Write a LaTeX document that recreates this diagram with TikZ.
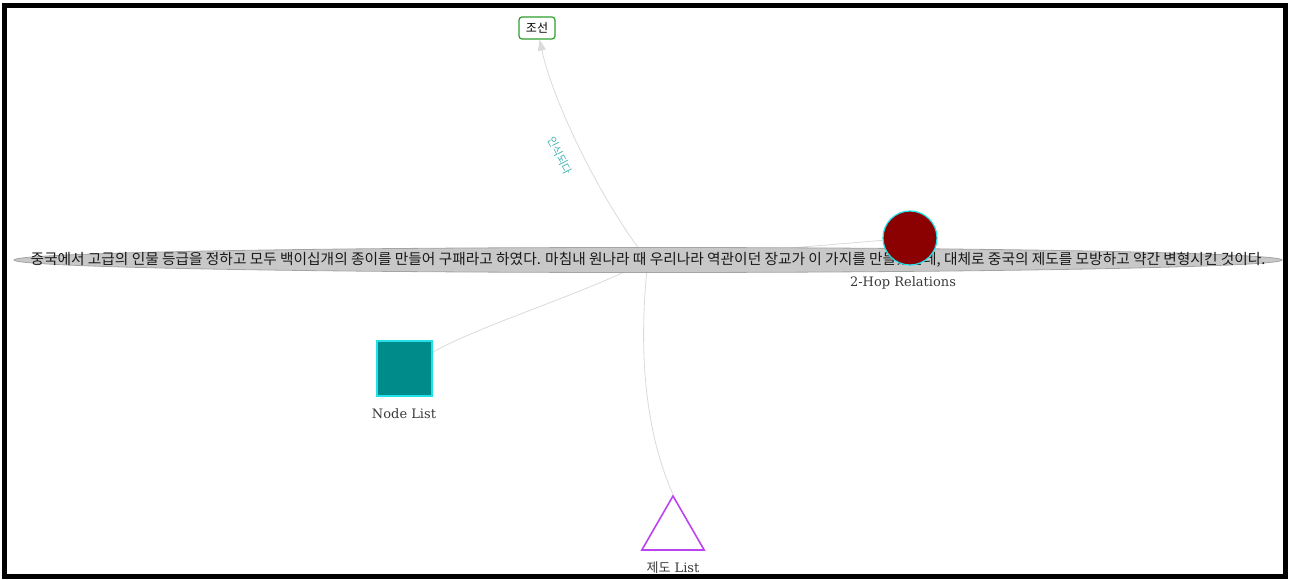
\documentclass[tikz,border=0pt]{standalone}
\usepackage{fontspec}
\setmainfont{DejaVu Serif}
\newfontfamily\kr{Noto Sans CJK KR}
\usetikzlibrary{shapes.geometric,arrows.meta,backgrounds}

\definecolor{hopred}{HTML}{8B0000}
\definecolor{hopcyan}{HTML}{22E0E8}
\definecolor{listteal}{HTML}{008B8B}
\definecolor{triviolet}{HTML}{BB44F0}
\definecolor{josgreen}{HTML}{2E9E2E}
\definecolor{edgegray}{HTML}{DADADA}
\definecolor{sentfill}{HTML}{C8C8C8}
\definecolor{sentborder}{HTML}{A4A4A4}
\definecolor{captext}{HTML}{3A3A3A}
\definecolor{reltext}{HTML}{45B5B5}

\begin{document}
\begin{tikzpicture}[x=1pt,y=-1pt,
    rel/.style={draw=edgegray,line width=0.8pt},
    nodecaption/.style={text=captext,font=\fontsize{13}{15}\selectfont}]
  \useasboundingbox (0,0) rectangle (1290,580);

  % nodes
  \node[ellipse,draw=sentborder,fill=sentfill,line width=0.8pt,
    minimum width=1268pt,minimum height=25pt,inner sep=0pt] (sent) at (648,260) {};
  \node[inner sep=0pt,text=black!90,font=\kr\fontsize{14.7}{16}\selectfont]
    (senttext) at (sent.center) {중국에서 고급의 인물 등급을 정하고 모두 백이십개의 종이를 만들어 구패라고 하였다. 마침내 원나라 때 우리나라 역관이던 장교가 이 가지를 만들었는데, 대체로 중국의 제도를 모방하고 약간 변형시킨 것이다.};
  \node[circle,draw=hopcyan,fill=hopred,line width=1.2pt,
    minimum size=54pt,inner sep=0pt] (hop) at (910,238) {};
  \node[nodecaption] (hoplbl) at (903,283) {2-Hop Relations};
  \node[rectangle,draw=hopcyan,fill=listteal,line width=1.2pt,
    minimum size=55pt,inner sep=0pt] (nodelist) at (404.5,368.5) {};
  \node[nodecaption] (nodelistlbl) at (404,414) {Node List};
  \node[regular polygon,regular polygon sides=3,draw=triviolet,
    line width=1.6pt,minimum size=72pt,inner sep=0pt] (tri) at (673,532) {};
  \node[nodecaption] (trilbl) at (673,568) {{\kr 제도} List};
  \node[draw=josgreen,fill=white,rounded corners=3pt,line width=1.2pt,
    minimum width=36pt,minimum height=22pt,inner sep=2pt,
    font=\kr\fontsize{12}{14}\selectfont] (joseon) at (537,28) {조선};
  \node[text=reltext,font=\kr\fontsize{11}{13}\selectfont,rotate=-63,inner sep=0pt]
    (rellbl) at (560,156) {인식되다};

  % edges
  \begin{scope}[on background layer]
    \draw[rel,-{Triangle[length=11pt,width=8pt]}] (sent.center)
      .. controls (610,215) and (555,110) .. (joseon);
    \draw[rel] (sent.center) -- (hop);
    \draw[rel] (sent.center) .. controls (595,290) and (480,325) .. (nodelist);
    \draw[rel] (sent.center) .. controls (640,330) and (640,420) .. (tri.corner 1);
  \end{scope}

  \draw[line width=5pt] (4.5,5.5) rectangle (1285.5,576.5);
\end{tikzpicture}
\end{document}
